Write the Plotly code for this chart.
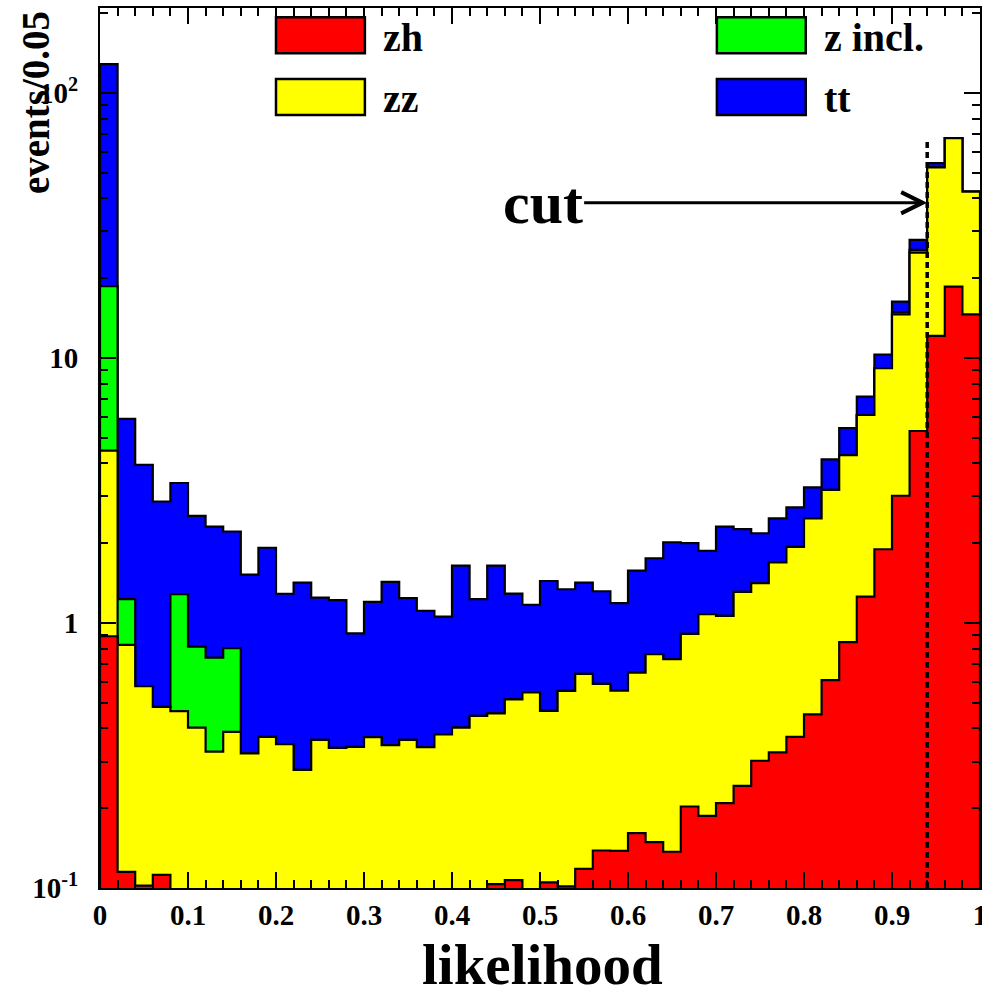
import numpy as np
import plotly.graph_objects as go

# ---------------- data ----------------
BIN_WIDTH = 0.02
bin_edges = np.round(np.arange(0.0, 1.0 + 1e-9, BIN_WIDTH), 4)  # 51 edges -> 50 bins

# per-process contributions (events per bin), stacked bottom -> top
zh = [0.891, 0.115, 0.102, 0.112, 0, 0, 0, 0, 0, 0,
      0, 0, 0, 0, 0, 0, 0, 0, 0, 0,
      0, 0, 0.1035, 0.107, 0, 0.105, 0.1015, 0.118, 0.1385, 0.138,
      0.161, 0.149, 0.137, 0.203, 0.187, 0.209, 0.243, 0.302, 0.325, 0.372,
      0.452, 0.609, 0.846, 1.257, 1.897, 3.02, 5.30, 12.1, 18.58, 14.6]
zz = [3.58, 0.711, 0.475, 0.370, 0.465, 0.403, 0.327, 0.388, 0.322, 0.372,
      0.349, 0.279, 0.362, 0.338, 0.341, 0.371, 0.346, 0.362, 0.340, 0.380,
      0.403, 0.446, 0.3525, 0.408, 0.547, 0.361, 0.4525, 0.524, 0.4505, 0.417,
      0.488, 0.613, 0.593, 0.706, 0.892, 0.854, 1.066, 1.11, 1.369, 1.563,
      2.028, 2.571, 3.454, 4.833, 7.243, 11.58, 19.66, 40.2, 48.9, 27.8]
z_incl = [14.2, 0.404, 0, 0, 0.818, 0.411, 0.413, 0.415, 0, 0,
          0, 0, 0, 0, 0, 0, 0, 0, 0, 0,
          0, 0, 0, 0, 0, 0, 0, 0, 0, 0,
          0, 0, 0, 0, 0, 0, 0, 0, 0, 0,
          0, 0, 0, 0, 0, 0.28, 0.60, 0, 0, 0]
tt = [109.6, 4.66, 3.37, 2.39, 2.09, 1.72, 1.57, 1.41, 1.20, 1.55,
      0.94, 1.14, 0.884, 0.882, 0.573, 0.829, 1.084, 0.878, 0.77, 0.676,
      1.242, 0.784, 1.189, 0.775, 0.623, 0.974, 0.786, 0.778, 0.728, 0.632,
      0.926, 0.992, 1.286, 1.091, 0.791, 1.247, 0.951, 0.768, 0.786, 0.795,
      0.765, 0.96, 1.13, 1.05, 1.16, 1.42, 2.34, 2.0, 0, 0]

series_names = ["zh", "zz", "z incl.", "tt"]
series_values = [zh, zz, z_incl, tt]
series_colors = ["#ff0000", "#ffff00", "#00ff00", "#0000ff"]

x_tick_vals = [0, 0.1, 0.2, 0.3, 0.4, 0.5, 0.6, 0.7, 0.8, 0.9, 1.0]
x_tick_text = ["0", "0.1", "0.2", "0.3", "0.4", "0.5", "0.6", "0.7", "0.8", "0.9", "1"]
y_tick_vals = [0.1, 1, 10, 100]
y_tick_text = ["10<sup>-1</sup>", "1", "10", "10<sup>2</sup>"]
y_minor_vals = [m * d for d in (0.1, 1, 10, 100) for m in range(2, 10) if m * d < 210]

Y_RANGE = [0.1, 209.0]
CUT = 0.94             # likelihood cut value
CUT_LINE_TOP = 66.0    # top of the dashed cut line (events)
CUT_ARROW_Y = 38.5     # height of the arrow (events)
CUT_LABEL_X = 0.503    # where the "cut" label sits (likelihood)

x_title = "likelihood"
y_title = "events/0.05"

# ---------------- figure ----------------
FONT = "Liberation Serif, Times New Roman, serif"
FLOOR = 1e-3  # below the visible log range

cum = np.cumsum(np.array(series_values, dtype=float), axis=0)

fig = go.Figure()
# draw the cumulative histograms from the total down to the first one
for i in reversed(range(len(series_names))):
    vals = np.where(cum[i] > 0, cum[i], FLOOR)
    xs = [bin_edges[0]] + list(bin_edges[:-1]) + [bin_edges[-1], bin_edges[-1]]
    ys = [FLOOR] + list(vals) + [vals[-1], FLOOR]
    fig.add_trace(go.Scatter(
        x=xs, y=ys, mode="lines", line=dict(shape="hv", color="black", width=2.2),
        fill="toself", fillcolor=series_colors[i], name=series_names[i],
        showlegend=False, hoverinfo="skip"))

# dashed cut line
fig.add_trace(go.Scatter(
    x=[CUT, CUT], y=[FLOOR, CUT_LINE_TOP], mode="lines",
    line=dict(color="black", width=3.5, dash="6px,4px"),
    showlegend=False, hoverinfo="skip"))

axis_common = dict(
    showline=True, linecolor="black", linewidth=2, mirror="ticks",
    ticks="inside", tickcolor="black", tickwidth=1.5, ticklen=16,
    showgrid=False, zeroline=False, automargin=False,
    tickfont=dict(family=FONT, size=29, color="black", weight="bold"),
)

fig.update_xaxes(
    range=[bin_edges[0], bin_edges[-1]], tickmode="array",
    tickvals=x_tick_vals, ticktext=x_tick_text, ticklabelstandoff=0,
    ticklabeloverflow="allow",
    minor=dict(ticks="inside", dtick=BIN_WIDTH, tick0=0, ticklen=8,
               tickwidth=1.5, tickcolor="black", showgrid=False),
    **axis_common)
fig.update_yaxes(
    type="log", range=[np.log10(Y_RANGE[0]), np.log10(Y_RANGE[1])],
    tickmode="array", tickvals=y_tick_vals, ticktext=y_tick_text,
    ticklabelstandoff=14,
    minor=dict(ticks="inside", tickmode="array", tickvals=y_minor_vals,
               ticklen=8, tickwidth=1.5, tickcolor="black", showgrid=False),
    **axis_common)

annotations = []
# cut label with arrow
annotations.append(dict(
    x=CUT, y=np.log10(CUT_ARROW_Y), xref="x", yref="y",
    ax=CUT_LABEL_X, ay=np.log10(CUT_ARROW_Y), axref="x", ayref="y",
    text="cut", showarrow=True, arrowhead=5, arrowsize=1.4, arrowwidth=3,
    arrowcolor="black",
    font=dict(family=FONT, size=60, color="black", weight="bold")))

# legend (two columns of boxes)
legend_slots = [  # (x0, x1, y0, y1) in paper coordinates
    (0.200, 0.301, 0.9485, 0.9894),
    (0.200, 0.301, 0.8784, 0.9193),
    (0.701, 0.802, 0.9485, 0.9894),
    (0.701, 0.802, 0.8784, 0.9193),
]
shapes = []
for name, color, (x0, x1, y0, y1) in zip(series_names, series_colors, legend_slots):
    shapes.append(dict(type="rect", xref="paper", yref="paper",
                       x0=x0, x1=x1, y0=y0, y1=y1,
                       fillcolor=color, line=dict(color="black", width=2.5)))
    annotations.append(dict(
        x=x1 + 0.018, y=(y0 + y1) / 2 - 0.002, xref="paper", yref="paper",
        xanchor="left", yanchor="middle", showarrow=False, text=name,
        font=dict(family=FONT, size=40, color="black", weight="bold")))

# axis titles
annotations.append(dict(
    x=0.503, y=-0.087, xref="paper", yref="paper", xanchor="center",
    yanchor="middle", showarrow=False, text=x_title,
    font=dict(family=FONT, size=57, color="black", weight="bold")))
annotations.append(dict(
    x=-0.074, y=0.893, xref="paper", yref="paper", xanchor="center",
    yanchor="middle", showarrow=False, text=y_title, textangle=-90,
    font=dict(family=FONT, size=39, color="black", weight="bold")))

fig.update_layout(
    width=982, height=991,
    margin=dict(l=100, r=2, t=8, b=103, autoexpand=False),
    paper_bgcolor="white", plot_bgcolor="white",
    showlegend=False,
    annotations=annotations, shapes=shapes,
)

fig.write_html(
    "out.html",
    config={"displayModeBar": False},
    post_script="document.body.style.margin='0px';"
                "document.body.style.overflow='hidden';",
)
